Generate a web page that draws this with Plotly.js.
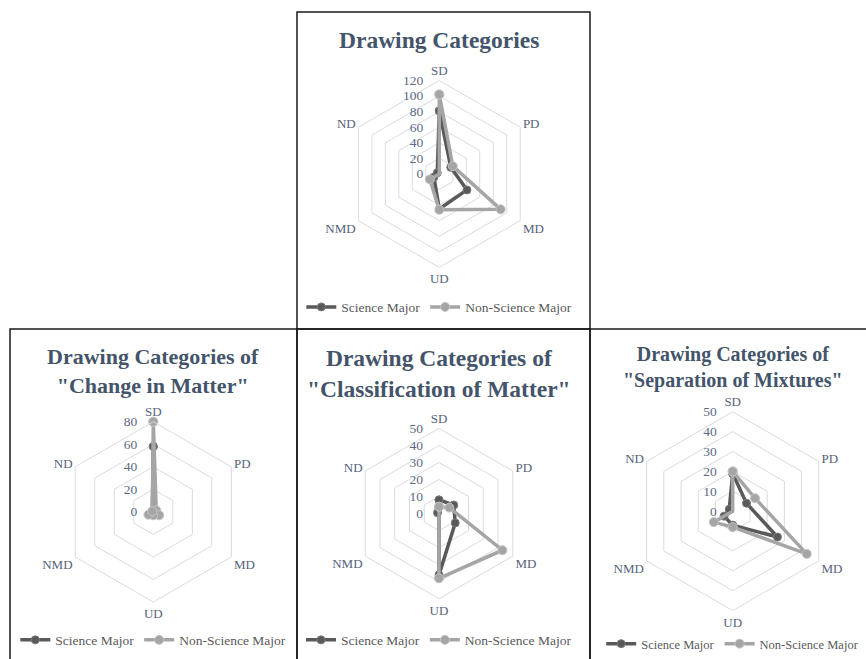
<!DOCTYPE html>
<html>
<head>
<meta charset="utf-8">
<script src="https://cdn.plot.ly/plotly-3.0.1.min.js"></script>
<style>html,body{margin:0;padding:0;background:#fff;}#chart{width:866px;height:659px;}</style>
</head>
<body>
<div id="chart"></div>
<script>
// Categories (axes of every radar)
const categories = ['SD', 'PD', 'MD', 'UD', 'NMD', 'ND'];
const seriesNames = ['Science Major', 'Non-Science Major'];

// Panel 1: Drawing Categories
const allScience    = [81, 17, 41, 45, 8, 3];
const allNonScience = [102, 20, 91, 46, 14, 0];
const allTicks = [0, 20, 40, 60, 80, 100, 120];
// Panel 2: Change in Matter
const changeScience    = [58, 1, 3, 2, 2, 1];
const changeNonScience = [80, 3, 6, 3, 5, 1];
const changeTicks = [0, 20, 40, 60, 80];
// Panel 3: Classification of Matter
const classScience    = [8, 10, 11, 36, 0, 1];
const classNonScience = [4, 7, 43, 38, 0, 0];
const classTicks = [0, 10, 20, 30, 40, 50];
// Panel 4: Separation of Mixtures
const sepScience    = [19, 8, 26, 7, 5, 2];
const sepNonScience = [20, 13, 43, 8, 11, 0];
const sepTicks = [0, 10, 20, 30, 40, 50];

const titles = [
  'Drawing Categories',
  'Drawing Categories of<br>"Change in Matter"',
  'Drawing Categories of<br>"Classification of Matter"',
  'Drawing Categories of<br>"Separation of Mixtures"'
];

const W = 866, H = 659;
const px = v => v / W;
const py = v => 1 - v / H;

const FONT = 'Liberation Serif';
const darkCol = '#595959';
const lightCol = '#A5A5A5';
const gridCol = '#D6DCE5';
const titleCol = '#44546A';
const labelCol = '#56627A';

// panel geometry (centre x, centre y, radius) in pixels
const geo = [
  {cx: 439.3, cy: 175.0, r: 94.0},
  {cx: 153.3, cy: 515.0, r: 90.7},
  {cx: 439.0, cy: 516.7, r: 85.7},
  {cx: 732.7, cy: 514.3, r: 100.0}
];
const titleY = [39, 357, 359, 355];
const titleSize = [23.5, 22, 23.5, 20];
const legendY = [309, 644, 644, 648];
const legendSize = [13.5, 13.5, 13.5, 12.5];

const data = [
  [allScience, allNonScience, allTicks],
  [changeScience, changeNonScience, changeTicks],
  [classScience, classNonScience, classTicks],
  [sepScience, sepNonScience, sepTicks]
];

// radial tick labels are right-aligned at the axis; a small trailing gap moves them left of it
const GAP = '\u2007\u2007';

const close = a => a.concat([a[0]]);
const traces = [];
const layout = {
  width: W, height: H,
  margin: {l: 0, r: 0, t: 0, b: 0},
  paper_bgcolor: '#fff',
  font: {family: FONT, color: labelCol},
  annotations: [],
  shapes: []
};

data.forEach((set, i) => {
  const pname = i === 0 ? 'polar' : 'polar' + (i + 1);
  const lname = i === 0 ? 'legend' : 'legend' + (i + 1);
  const thetaC = close(categories);
  const ticks = set[2];
  [set[0], set[1]].forEach((vals, k) => {
    traces.push({
      type: 'scatterpolar',
      mode: 'lines+markers',
      r: close(vals),
      theta: thetaC,
      name: seriesNames[k],
      subplot: pname,
      legend: lname,
      line: {color: k === 0 ? darkCol : lightCol, width: 3.5},
      marker: {symbol: 'circle', size: k === 0 ? 8 : 9,
               color: k === 0 ? darkCol : lightCol,
               line: {color: k === 0 ? '#7a7a7a' : '#c4c4c4', width: 1}},
      cliponaxis: false
    });
  });
  const g = geo[i];
  layout[pname] = {
    domain: {x: [px(g.cx - g.r), px(g.cx + g.r)], y: [py(g.cy + g.r), py(g.cy - g.r)]},
    gridshape: 'linear',
    bgcolor: 'rgba(0,0,0,0)',
    radialaxis: {
      range: [ticks[0], ticks[ticks.length - 1]],
      tickmode: 'array', tickvals: ticks, ticktext: ticks.map(v => String(v) + GAP),
      angle: 90, tickangle: 90, side: 'counterclockwise',
      showline: false, ticks: '', gridcolor: gridCol, gridwidth: 1,
      tickfont: {family: FONT, size: 13.5, color: '#5B6A84'}
    },
    angularaxis: {
      rotation: 90, direction: 'clockwise',
      showgrid: false, showline: true, linecolor: gridCol, linewidth: 1,
      ticks: '', tickfont: {family: FONT, size: 13, color: labelCol}
    }
  };
  layout[lname] = {
    orientation: 'h', x: px(g.cx), xanchor: 'center', y: py(legendY[i]), yanchor: 'middle',
    font: {family: FONT, size: legendSize[i], color: darkCol},
    bgcolor: 'rgba(0,0,0,0)', itemwidth: 30, tracegroupgap: 0
  };
  layout.annotations.push({
    text: '<b>' + titles[i] + '</b>', showarrow: false,
    xref: 'paper', yref: 'paper', x: px(g.cx),
    y: py(titleY[i] - titleSize[i] * 0.6), yanchor: 'top', xanchor: 'center',
    align: 'center',
    font: {family: FONT, size: titleSize[i], color: titleCol}
  });
});

// panel frames
const frames = [[297, 12, 590, 331], [10, 331, 297, 700], [297, 331, 590, 700], [590, 331, 900, 700]];
frames.forEach(f => {
  layout.shapes.push({type: 'rect', xref: 'paper', yref: 'paper',
    x0: px(f[0]), x1: px(f[2]), y0: py(f[3]), y1: py(f[1]),
    line: {color: '#1a1a1a', width: 1.5}, layer: 'above'});
});

Plotly.newPlot('chart', traces, layout, {displayModeBar: false, staticPlot: true});
</script>
</body>
</html>
